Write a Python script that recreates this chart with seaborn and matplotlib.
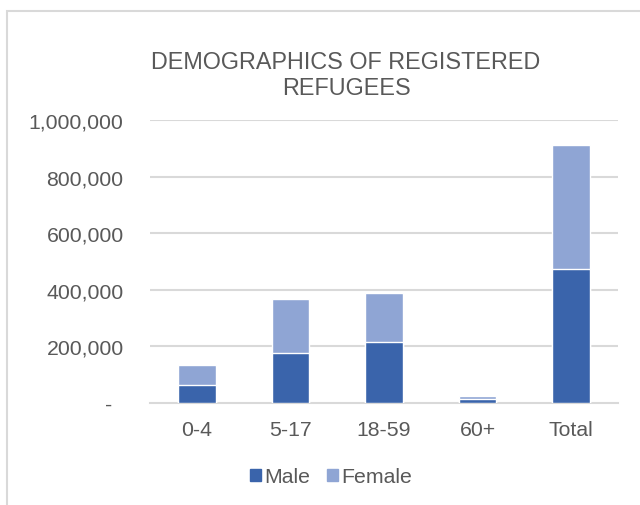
import matplotlib
matplotlib.use("Agg")
import matplotlib.pyplot as plt
import matplotlib.patches as mpatches
from matplotlib.ticker import FuncFormatter, FixedLocator
import seaborn as sns
import pandas as pd

categories = ["0-4", "5-17", "18-59", "60+", "Total"]
male = [65000, 178000, 215000, 14000, 472000]
female = [68000, 188000, 174000, 10000, 440000]
title = "DEMOGRAPHICS OF REGISTERED\nREFUGEES"
y_ticks = [0, 200000, 400000, 600000, 800000, 1000000]

male_color = "#3A64AB"
female_color = "#8FA5D4"
text_color = "#595959"
grid_color = "#D9D9D9"

sns.set_theme(style="white")
plt.rcParams["font.family"] = ["Liberation Sans", "DejaVu Sans"]

df = pd.DataFrame({"cat": categories, "male": male, "female": female})
df["total"] = df["male"] + df["female"]

fig = plt.figure(figsize=(6.4, 5.06), dpi=100)
ax = fig.add_axes([150 / 640, 102 / 506, 468 / 640, 283 / 506])

sns.barplot(data=df, x="cat", y="total", color=female_color, width=0.4,
            saturation=1, ax=ax, zorder=3)
sns.barplot(data=df, x="cat", y="male", color=male_color, width=0.4,
            saturation=1, ax=ax, zorder=4)

ax.set_xlim(-0.5, 4.5)
ax.set_ylim(0, 1000000)
ax.set_xlabel("")
ax.set_ylabel("")

ax.yaxis.set_major_locator(FixedLocator(y_ticks))
ax.yaxis.set_major_formatter(FuncFormatter(lambda v, p: "-  " if v == 0 else f"{int(v):,}"))
for v in y_ticks[1:]:
    ax.axhline(v, color=grid_color, lw=1.5, zorder=1)

for s in ["top", "right", "left"]:
    ax.spines[s].set_visible(False)
ax.spines["bottom"].set_color(grid_color)
ax.spines["bottom"].set_linewidth(1.5)

ax.set_xticks(range(len(categories)))
ax.set_xticklabels(categories)
ax.set_xticks([i - 0.5 for i in range(len(categories) + 1)], minor=True)
ax.tick_params(axis="x", which="major", length=0, pad=12, labelsize=15.3, labelcolor=text_color)
ax.tick_params(axis="x", which="minor", length=5, width=1.5, color=grid_color, direction="out")
ax.tick_params(axis="y", length=0, pad=19, labelsize=15.3, labelcolor=text_color)

fig.text(346 / 640, 1 - 75.5 / 506, title, ha="center", va="center",
         fontsize=16.8, color=text_color, linespacing=1.15)

handles = [mpatches.Patch(color=male_color, label="Male"),
           mpatches.Patch(color=female_color, label="Female")]
fig.legend(handles=handles, loc="center", bbox_to_anchor=(331 / 640, 1 - 478 / 506),
           ncol=2, frameon=False, fontsize=15.3, handlelength=0.52, handleheight=0.52,
           handletextpad=0.15, columnspacing=0.8, labelcolor=text_color)

border = mpatches.Rectangle((7 / 640, -0.1), 1.2, 1 - 12 / 506 + 0.1,
                            transform=fig.transFigure, fill=False,
                            edgecolor=grid_color, lw=1.5, clip_on=False)
fig.patches.append(border)

fig.savefig("out.png", dpi=100)
